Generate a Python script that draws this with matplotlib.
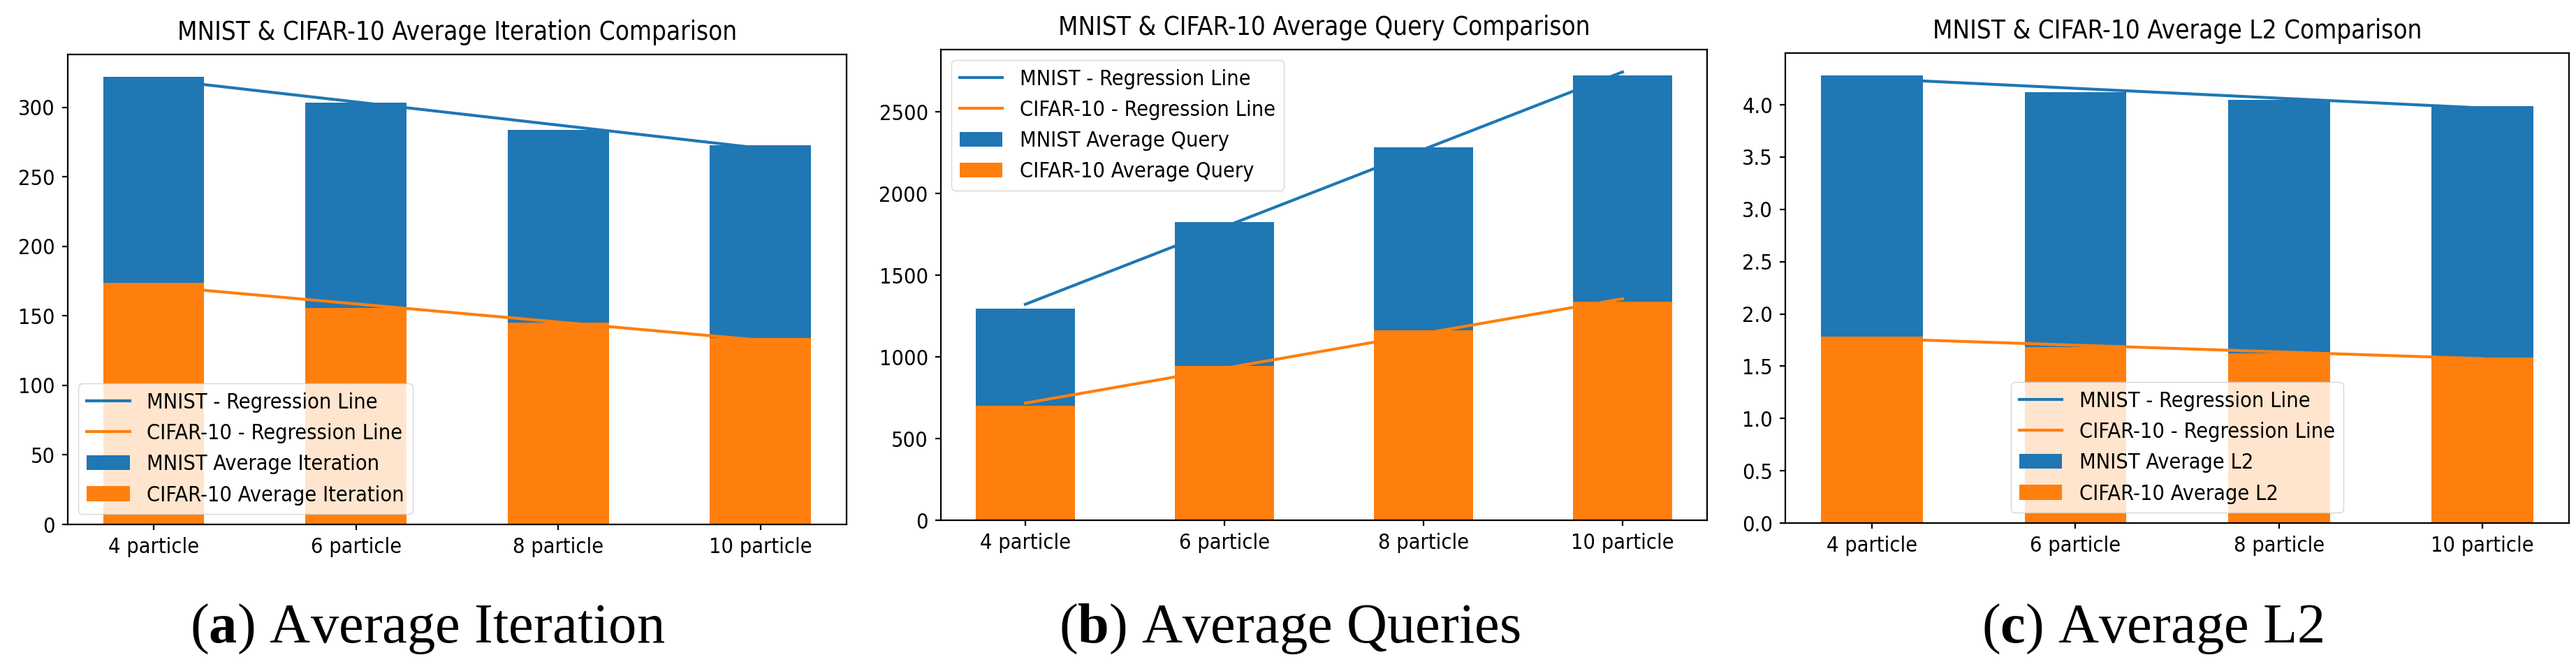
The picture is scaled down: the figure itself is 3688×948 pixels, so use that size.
import os
import numpy as np
import matplotlib
matplotlib.use('Agg')
import matplotlib.pyplot as plt
from matplotlib import font_manager as fm
from matplotlib.ticker import MultipleLocator

# data
particles = ['4 particle', '6 particle', '8 particle', '10 particle']
mnist_iter = [322, 303.5, 284, 273]
cifar_iter = [174, 155.5, 145, 134]
mnist_query = [1298, 1827, 2285, 2726]
cifar_query = [701, 945, 1164, 1338]
mnist_l2 = [4.28, 4.12, 4.05, 3.99]
cifar_l2 = [1.78, 1.685, 1.625, 1.585]

titles = ['MNIST & CIFAR-10 Average Iteration Comparison',
          'MNIST & CIFAR-10 Average Query Comparison',
          'MNIST & CIFAR-10 Average L2 Comparison']
names = ['Iteration', 'Query', 'L2']
captions = [r'($\mathbf{a}$) Average Iteration',
            r'($\mathbf{b}$) Average Queries',
            r'($\mathbf{c}$) Average L2']
ysteps = [50, 500, 0.5]

# narrow sans if it is there
cond = [f for f in fm.fontManager.ttflist
        if os.path.basename(f.fname) == 'DejaVuSansCondensed.ttf']
if cond:
    plt.rcParams['font.family'] = [cond[0].name]
    plt.rcParams['font.stretch'] = 'condensed'
    fs = 22
else:
    fs = 20.4

plt.rcParams.update({
    'font.size': fs,
    'axes.linewidth': 1.6,
    'xtick.major.width': 1.6, 'ytick.major.width': 1.6,
    'xtick.major.size': 6, 'ytick.major.size': 6,
    'xtick.major.pad': 7, 'ytick.major.pad': 7,
    'mathtext.fontset': 'custom',
    'mathtext.rm': 'Liberation Serif',
    'mathtext.bf': 'Liberation Serif:bold',
})


def panel(ax, mn, cf, name, title, loc, step):
    x = np.arange(len(particles))
    ax.bar(particles, mn, width=0.5, color='C0', label='MNIST Average ' + name)
    ax.bar(particles, cf, width=0.5, color='C1', label='CIFAR-10 Average ' + name)
    k, b = np.polyfit(x, mn, 1)
    ax.plot(x, k * x + b, color='C0', lw=3, label='MNIST - Regression Line')
    k, b = np.polyfit(x, cf, 1)
    ax.plot(x, k * x + b, color='C1', lw=3, label='CIFAR-10 - Regression Line')
    ax.yaxis.set_major_locator(MultipleLocator(step))
    ax.set_title(title, fontsize=fs * 1.2, pad=15)
    ax.legend(loc=loc, fontsize=fs)


fig = plt.figure(figsize=(36.88, 9.48), dpi=100)
boxes = [[0.0263, 0.2078, 0.3023, 0.7099],
         [0.3652, 0.2141, 0.2975, 0.7110],
         [0.6931, 0.2099, 0.3042, 0.7099]]
data = [(mnist_iter, cifar_iter), (mnist_query, cifar_query), (mnist_l2, cifar_l2)]
locs = ['lower left', 'upper left', 'lower center']
cap_x = [0.166, 0.5005, 0.8357]

for i in range(3):
    ax = fig.add_axes(boxes[i])
    panel(ax, data[i][0], data[i][1], names[i], titles[i], locs[i], ysteps[i])
    fig.text(cap_x[i], 0.0295, captions[i], ha='center', va='baseline',
             fontsize=58, family='Liberation Serif')

fig.savefig('out.png', dpi=100)
